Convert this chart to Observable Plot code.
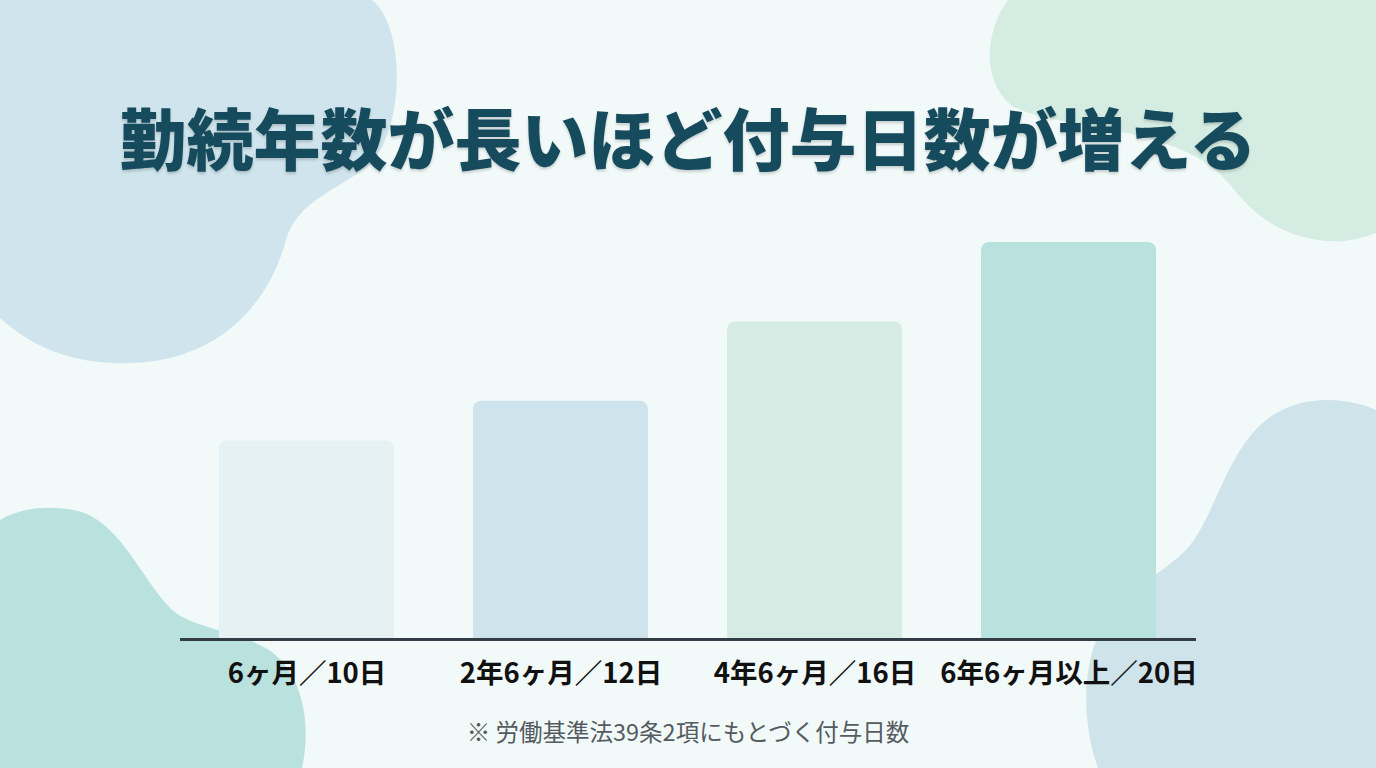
<!DOCTYPE html>
<html lang="ja">
<head>
<meta charset="utf-8">
<script src="https://cdn.jsdelivr.net/npm/d3@7"></script>
<script src="https://cdn.jsdelivr.net/npm/@observablehq/plot@0.6"></script>
<style>
  html, body { margin: 0; padding: 0; }
  body { width: 1376px; height: 768px; overflow: hidden; background: #f1f9f9; font-family: "Noto Sans CJK JP", "Noto Sans", sans-serif; }
  #stage { position: relative; width: 1376px; height: 768px; }
  #blobs { position: absolute; left: 0; top: 0; }
  #title { position: absolute; left: 0; top: 92px; width: 1376px; text-align: center; font-size: 67px; line-height: 88px; font-weight: 900; color: #164b5d; letter-spacing: 0px; text-shadow: 0 2px 3px rgba(0,0,0,0.18); }
  #chart { position: absolute; left: 0; top: 230px; }
  #caption { position: absolute; left: 0; top: 714px; width: 1376px; text-align: center; font-size: 23.5px; line-height: 34px; color: #555b60; }
</style>
</head>
<body>
<div id="stage">
  <svg id="blobs" width="1376" height="768">
    <path d="M0,0 L372,0 C402,22 408,118 372,163 C335,192 298,200 286,240 C270,300 222,361 130,363 C70,365 30,345 0,318 Z" fill="#cfe4ec"/>
    <path d="M1008,0 C986,30 980,80 1012,106 C1062,132 1182,122 1232,187 C1262,226 1300,244 1345,241 C1360,239 1376,233 1376,233 L1376,0 Z" fill="#d5ece3"/>
    <path d="M0,520 C20,508 50,504 82,512 C122,526 142,580 172,610 C196,630 240,630 272,652 C302,676 312,722 302,768 L0,768 Z" fill="#b9e2de"/>
    <path d="M1376,410 C1350,398 1302,392 1266,420 C1226,452 1214,520 1186,550 C1160,576 1120,592 1100,632 C1080,672 1084,730 1098,768 L1376,768 Z" fill="#cfe3ea"/>
  </svg>
  <div id="title">勤続年数が長いほど付与日数が増える</div>
  <div id="chart"></div>
  <div id="caption">※ 労働基準法39条2項にもとづく付与日数</div>
</div>
<script>
const tickLabels = ["6ヶ月／10日", "2年6ヶ月／12日", "4年6ヶ月／16日", "6年6ヶ月以上／20日"];
const days = [10, 12, 16, 20];
const barColors = ["#e6f1f3", "#cee3eb", "#d5ebe3", "#b9e2de"];

const data = tickLabels.map((label, i) => ({label, days: days[i], color: barColors[i]}));

const chart = Plot.plot({
  width: 1376,
  height: 470,
  marginTop: 12,
  marginBottom: 61,
  marginLeft: 180,
  marginRight: 180,
  style: {background: "transparent", fontFamily: "'Noto Sans CJK JP', sans-serif"},
  x: {domain: tickLabels, paddingInner: 0.31, paddingOuter: 0.155, label: null},
  y: {domain: [0, 20], label: null, axis: null},
  color: {type: "identity"},
  marks: [
    Plot.barY(data, {x: "label", y: "days", fill: "color", rx: 8}),
    Plot.barY(data, {x: "label", y: d => d.days / 2, fill: "color"}),
    Plot.ruleY([0], {stroke: "#333c44", strokeWidth: 3}),
    Plot.axisX({tickSize: 0, tickPadding: 24, fontSize: 27.5, fontWeight: "bold", fill: "#111111", label: null})
  ]
});
document.getElementById("chart").appendChild(chart);
</script>
</body>
</html>
